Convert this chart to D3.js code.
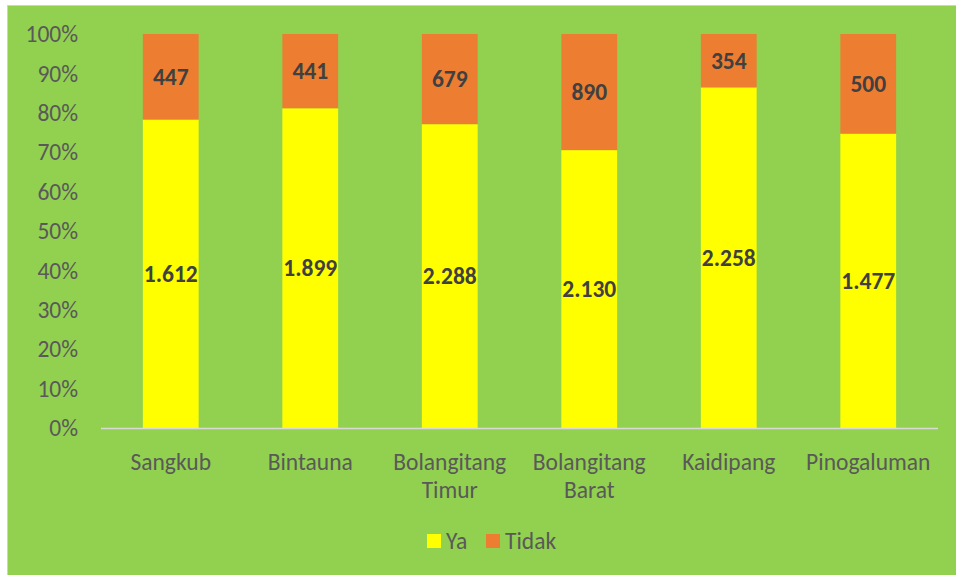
<!DOCTYPE html>
<html>
<head>
<meta charset="utf-8">
<script src="https://cdn.jsdelivr.net/npm/d3@7"></script>
<style>
  body { margin: 0; background: #fff; }
  text { font-family: Carlito, Calibri, "Open Sans", sans-serif; }
</style>
</head>
<body>
<svg width="956" height="575"></svg>
<script>
const categories = [['Sangkub'], ['Bintauna'], ['Bolangitang', 'Timur'], ['Bolangitang', 'Barat'], ['Kaidipang'], ['Pinogaluman']];
const ya = [1612, 1899, 2288, 2130, 2258, 1477];
const tidak = [447, 441, 679, 890, 354, 500];
const yTicks = [0, 0.1, 0.2, 0.3, 0.4, 0.5, 0.6, 0.7, 0.8, 0.9, 1];

const svg = d3.select('svg');

// background with thin frame
svg.append('rect')
    .attr('x', 7.5).attr('y', 5.5)
    .attr('width', 960).attr('height', 580)
    .attr('fill', '#92d050')
    .attr('stroke', '#d0d0d0');

const x = d3.scaleBand()
    .domain(d3.range(categories.length))
    .range([101, 938])
    .paddingInner(0.6)
    .paddingOuter(0.3);

const y = d3.scaleLinear().domain([0, 1]).range([428, 34]);

const fmt = v => d3.format(',')(v).replace(/,/g, '.');

// y tick labels
svg.selectAll('.ytick')
    .data(yTicks)
    .enter()
    .append('text')
        .attr('x', 78)
        .attr('y', d => y(d))
        .attr('dy', '0.35em')
        .attr('text-anchor', 'end')
        .attr('font-size', 23.5)
        .attr('fill', '#595959')
        .text(d => Math.round(d * 100) + '%');

const rows = categories.map((c, i) => {
    const total = ya[i] + tidak[i];
    return {i, ya: ya[i], tidak: tidak[i], p: ya[i] / total};
});

// Ya segments
svg.selectAll('.ya')
    .data(rows)
    .enter()
    .append('rect')
        .attr('x', d => x(d.i))
        .attr('width', x.bandwidth())
        .attr('y', d => y(d.p))
        .attr('height', d => y(0) - y(d.p))
        .attr('fill', '#ffff00');

// Tidak segments
svg.selectAll('.tidak')
    .data(rows)
    .enter()
    .append('rect')
        .attr('x', d => x(d.i))
        .attr('width', x.bandwidth())
        .attr('y', y(1))
        .attr('height', d => y(d.p) - y(1))
        .attr('fill', '#ed7d31');

// labels
svg.selectAll('.lya')
    .data(rows)
    .enter()
    .append('text')
        .attr('x', d => x(d.i) + x.bandwidth() / 2)
        .attr('y', d => y(d.p / 2))
        .attr('dy', '0.35em')
        .attr('text-anchor', 'middle')
        .attr('font-size', 23.5)
        .attr('font-weight', 'bold')
        .attr('fill', '#404040')
        .text(d => fmt(d.ya));

svg.selectAll('.ltidak')
    .data(rows)
    .enter()
    .append('text')
        .attr('x', d => x(d.i) + x.bandwidth() / 2)
        .attr('y', d => y((d.p + 1) / 2))
        .attr('dy', '0.35em')
        .attr('text-anchor', 'middle')
        .attr('font-size', 23.5)
        .attr('font-weight', 'bold')
        .attr('fill', '#404040')
        .text(d => fmt(d.tidak));

// x axis line
svg.append('line')
    .attr('x1', 101).attr('x2', 938)
    .attr('y1', y(0) + 0.5).attr('y2', y(0) + 0.5)
    .attr('stroke', '#d9d9d9')
    .attr('stroke-width', 1.5);

// category labels
const cat = svg.selectAll('.cat')
    .data(categories)
    .enter()
    .append('text')
        .attr('x', (d, i) => x(i) + x.bandwidth() / 2)
        .attr('y', 470)
        .attr('text-anchor', 'middle')
        .attr('font-size', 23.5)
        .attr('fill', '#595959');

cat.selectAll('tspan')
    .data(d => d)
    .enter()
    .append('tspan')
        .attr('x', function() { return this.parentNode.getAttribute('x'); })
        .attr('dy', (d, j) => j ? 28 : 0)
        .text(d => d);

// legend
const legend = [{name: 'Ya', color: '#ffff00', x: 427}, {name: 'Tidak', color: '#ed7d31', x: 486}];
svg.selectAll('.leg')
    .data(legend)
    .enter()
    .append('rect')
        .attr('x', d => d.x)
        .attr('y', 534)
        .attr('width', 14).attr('height', 14)
        .attr('fill', d => d.color);

svg.selectAll('.legt')
    .data(legend)
    .enter()
    .append('text')
        .attr('x', d => d.x + 19)
        .attr('y', 541)
        .attr('dy', '0.35em')
        .attr('font-size', 23.5)
        .attr('fill', '#595959')
        .text(d => d.name);
</script>
</body>
</html>
